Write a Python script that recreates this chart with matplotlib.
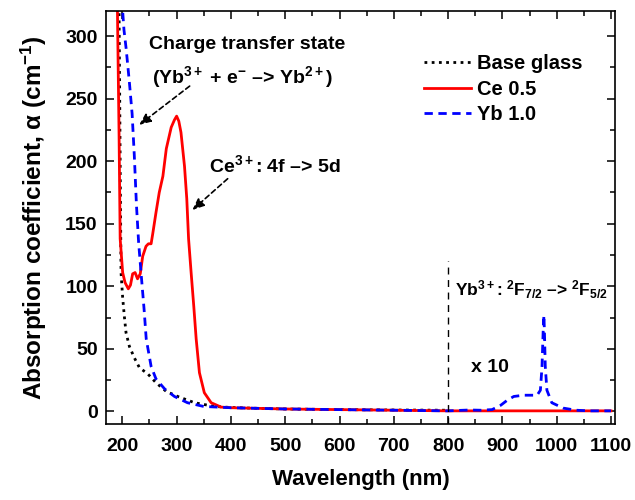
import numpy as np
import matplotlib
matplotlib.use("Agg")
import matplotlib.pyplot as plt
from matplotlib.ticker import MultipleLocator

plt.rcParams['font.family'] = ['Liberation Sans', 'DejaVu Sans']
plt.rcParams['font.weight'] = 'bold'
plt.rcParams['mathtext.fontset'] = 'custom'
plt.rcParams['mathtext.rm'] = 'Liberation Sans:bold'
plt.rcParams['mathtext.it'] = 'Liberation Sans:bold'
plt.rcParams['mathtext.bf'] = 'Liberation Sans:bold'

# base glass (black dotted)
wl_base = [190, 194, 196, 197.6, 200.6, 203.7, 206.8, 213, 222, 231.5, 247, 262, 281, 302,
           333, 370, 400, 450, 500, 600, 700, 800]
a_base = [330, 320, 200, 111, 91, 76, 63, 52, 43, 35, 30, 23, 16, 12,
          7, 4, 3.2, 2.5, 2, 1.5, 1.2, 1]

# Ce 0.5 (red solid)
wl_ce = [188, 191, 194, 196, 200.6, 205, 211, 215, 219, 223.5, 228, 233, 237.5, 243.6, 248, 253,
         256, 262, 268, 274.7, 281, 290, 296, 300, 304, 308, 314.5, 318.7, 322, 326.7, 331.6,
         336, 342, 351, 363.6, 382, 400, 450, 500, 600, 700, 800, 900, 1000, 1100]
a_ce = [340, 320, 220, 138, 111, 103, 98, 101, 110, 111, 106, 110, 124, 132, 134, 134,
        142, 159, 175, 188, 210, 227, 233, 236, 232, 223, 196, 170, 138, 111, 84,
        58, 31, 15, 7, 3.5, 3, 2.5, 2, 1.5, 1, 0.5, 0.5, 0.5, 0.5]

# Yb 1.0 (blue dashed)
wl_yb = [198, 200.6, 203, 207, 213, 218, 222, 226, 230, 235, 240, 244, 253, 262, 278, 296,
         320, 350, 400, 500, 600, 700, 800, 840, 860, 881, 897, 909, 921, 939, 955, 964,
         970, 973, 975, 976.5, 977.5, 979, 982, 991, 1012, 1036, 1060, 1100]
a_yb = [340, 320, 305, 290, 263, 238, 205, 165, 135, 108, 82, 58, 36, 26, 18, 12,
        7, 4, 3, 2, 1.5, 1, 0.5, 1.2, 1, 1.5, 5, 9, 12, 13, 13, 13,
        17, 36, 63, 77, 63, 36, 17, 7, 2.7, 1, 0.5, 0.5]

marker_wl = 800
marker_top = 120

fig = plt.figure(figsize=(6.35, 5), dpi=100)
ax = fig.add_axes([0.167, 0.152, 0.802, 0.826])

ax.plot(wl_base, a_base, color='black', ls=(0, (1, 1.6)), lw=2, label='Base glass')
ax.plot(wl_ce, a_ce, color='red', ls='-', lw=2, label='Ce 0.5')
ax.plot(wl_yb, a_yb, color='blue', ls=(0, (3, 2)), lw=2, label='Yb 1.0')
ax.plot([marker_wl, marker_wl], [-10, marker_top], color='black', lw=1, ls=(0, (5, 4)))

ax.set_xlim(170, 1108)
ax.set_ylim(-10, 320)
ax.xaxis.set_major_locator(MultipleLocator(100))
ax.xaxis.set_minor_locator(MultipleLocator(50))
ax.yaxis.set_major_locator(MultipleLocator(50))
ax.yaxis.set_minor_locator(MultipleLocator(25))
ax.tick_params(which='both', direction='in', top=True, right=True, width=1.1)
ax.tick_params(which='major', length=6, labelsize=14, pad=6)
ax.tick_params(axis='x', which='major', pad=10)
ax.tick_params(which='minor', length=3.5)
for s in ax.spines.values():
    s.set_linewidth(1.2)

ax.set_xlabel('Wavelength (nm)', fontsize=16, fontweight='bold', labelpad=10)
ax.set_ylabel('Absorption coefficient, \u03b1 (cm$^{-1}$)', fontsize=17.5, fontweight='bold', labelpad=12)

leg = ax.legend(loc='upper left', bbox_to_anchor=(0.625, 0.895), frameon=False, fontsize=14.5,
                handlelength=2.3, handletextpad=0.3, labelspacing=0.32, borderpad=0, borderaxespad=0)

ax.text(430, 293, 'Charge transfer state', fontsize=14, ha='center', va='center')
ax.text(421, 267, '(Yb$^{3+}$ + e$^{-}$ \u2013> Yb$^{2+}$)', fontsize=14, ha='center', va='center')
ax.annotate('', xy=(231, 229), xytext=(324, 260),
            arrowprops=dict(arrowstyle='-|>,head_length=0.7,head_width=0.3', ls=(0, (3, 2)),
                            color='black', lw=1.2, shrinkA=0, shrinkB=0))
ax.text(480, 197, 'Ce$^{3+}$: 4f \u2013> 5d', fontsize=14, ha='center', va='center')
ax.annotate('', xy=(329, 161), xytext=(394, 186),
            arrowprops=dict(arrowstyle='-|>,head_length=0.7,head_width=0.3', ls=(0, (3, 2)),
                            color='black', lw=1.2, shrinkA=0, shrinkB=0))
ax.text(812, 97, 'Yb$^{3+}$: $^{2}$F$_{7/2}$ \u2013> $^{2}$F$_{5/2}$', fontsize=12.5, ha='left', va='center')
ax.text(877, 35, 'x 10', fontsize=14, ha='center', va='center')

fig.savefig('out.png', dpi=100)
